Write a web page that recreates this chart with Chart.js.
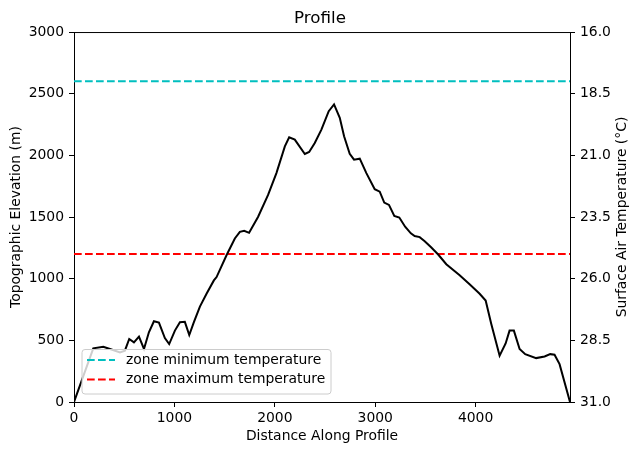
<!DOCTYPE html>
<html>
<head>
<meta charset="utf-8">
<script src="https://cdn.jsdelivr.net/npm/chart.js@4/dist/chart.umd.min.js"></script>
<style>
html,body{margin:0;padding:0;background:#fff;}
canvas{display:block;}
</style>
</head>
<body>
<canvas id="c" width="640" height="455"></canvas>
<script>
// ---- data ----
const distance = [0,192,292,358,458,507,550,597,647,697,746,796,846,905,948,1005,1055,1104,1148,1194,1254,1320,1393,1420,1519,1602,1652,1695,1744,1834,1933,2016,2100,2143,2199,2299,2342,2398,2464,2537,2590,2647,2690,2746,2789,2846,2912,2995,3045,3090,3137,3190,3240,3298,3355,3393,3443,3493,3559,3627,3708,3841,3940,4040,4100,4156,4239,4299,4338,4381,4438,4494,4603,4687,4743,4786,4836,4940];
const elevation = [0,435,448,430,402,416,511,484,530,430,565,655,644,519,470,579,647,650,543,647,774,878,986,1013,1190,1326,1380,1389,1372,1502,1679,1856,2073,2147,2128,2011,2027,2100,2209,2358,2413,2304,2155,2013,1965,1973,1856,1726,1706,1617,1598,1508,1496,1421,1368,1346,1337,1304,1253,1196,1117,1027,954,878,823,633,375,475,579,579,430,388,356,369,388,383,307,0];
const zoneMinElevation = 2600;
const zoneMaxElevation = 1200;
const xTicks = [0,1000,2000,3000,4000];
const elevTicks = [0,500,1000,1500,2000,2500,3000];
const tempTicks = [16.0,18.5,21.0,23.5,26.0,28.5,31.0];
const xMax = 4940;
const rightTitle = 'Surface Air Temperature (°C)';

const FONT = "'DejaVu Sans', sans-serif";
const DASH = [7.7,3.3];
const profilePts = distance.map((d,i)=>({x:d,y:elevation[i]}));

const legendPlugin = {
  id:'inLegend',
  afterDatasetsDraw(chart){
    const ctx = chart.ctx;
    const items = chart.data.datasets.filter(d=>d.showInLegend);
    const x0 = 82, y0 = 349.5, w = 249, h = 44.5, r = 3;
    ctx.save();
    ctx.beginPath();
    ctx.moveTo(x0+r,y0);
    ctx.lineTo(x0+w-r,y0); ctx.arcTo(x0+w,y0,x0+w,y0+r,r);
    ctx.lineTo(x0+w,y0+h-r); ctx.arcTo(x0+w,y0+h,x0+w-r,y0+h,r);
    ctx.lineTo(x0+r,y0+h); ctx.arcTo(x0,y0+h,x0,y0+h-r,r);
    ctx.lineTo(x0,y0+r); ctx.arcTo(x0,y0,x0+r,y0,r);
    ctx.closePath();
    ctx.fillStyle='rgba(255,255,255,0.8)';
    ctx.fill();
    ctx.strokeStyle='#cccccc';
    ctx.lineWidth=1;
    ctx.stroke();
    items.forEach((ds,i)=>{
      const y = 360 + i*19.5;
      ctx.beginPath();
      ctx.setLineDash(ds.borderDash);
      ctx.strokeStyle = ds.borderColor;
      ctx.lineWidth = ds.borderWidth;
      ctx.moveTo(87,y); ctx.lineTo(115,y);
      ctx.stroke();
      ctx.setLineDash([]);
      ctx.fillStyle='#000';
      ctx.font = "13.9px "+FONT;
      ctx.textBaseline='middle';
      ctx.textAlign='left';
      ctx.fillText(ds.label,126,y);
    });
    ctx.restore();
  }
};

const tickGrid = {display:true, drawOnChartArea:false, drawTicks:true, tickLength:5, color:'#000', tickWidth:1};

new Chart(document.getElementById('c'),{
  type:'line',
  data:{
    datasets:[
      {label:'profile', data:profilePts, borderColor:'#000', borderWidth:2, pointRadius:0, tension:0, yAxisID:'y', showInLegend:false},
      {label:'zone minimum temperature', data:[{x:0,y:zoneMinElevation},{x:xMax,y:zoneMinElevation}], borderColor:'#00bfbf', borderWidth:2, borderDash:DASH, pointRadius:0, yAxisID:'y', showInLegend:true},
      {label:'zone maximum temperature', data:[{x:0,y:zoneMaxElevation},{x:xMax,y:zoneMaxElevation}], borderColor:'#ff0000', borderWidth:2, borderDash:DASH, pointRadius:0, yAxisID:'y', showInLegend:true}
    ]
  },
  options:{
    responsive:false,
    animation:false,
    layout:{padding:0},
    plugins:{
      legend:{display:false},
      tooltip:{enabled:false},
      title:{display:true, text:'Profile', color:'#000', font:{family:FONT, size:16.7, weight:'normal'}, padding:{top:9,bottom:3}}
    },
    scales:{
      x:{
        type:'linear', min:0, max:xMax, position:'bottom',
        afterBuildTicks(s){ s.ticks = xTicks.map(v=>({value:v})); },
        afterFit(s){ s.height = 53; },
        grid:tickGrid,
        border:{display:true,color:'#000',width:1},
        ticks:{color:'#000', font:{family:FONT,size:13.9}, padding:3, maxRotation:0, callback:v=>String(v)},
        title:{display:true, text:'Distance Along Profile', color:'#000', font:{family:FONT,size:13.9}, padding:{top:0,bottom:10}}
      },
      y:{
        type:'linear', min:0, max:3000, position:'left',
        afterBuildTicks(s){ s.ticks = elevTicks.map(v=>({value:v})); },
        afterFit(s){ s.width = 74; },
        grid:tickGrid,
        border:{display:true,color:'#000',width:1},
        ticks:{color:'#000', font:{family:FONT,size:13.9}, padding:5, callback:v=>String(v)},
        title:{display:true, text:'Topographic Elevation (m)', color:'#000', font:{family:FONT,size:13.9}, padding:{top:8,bottom:0}}
      },
      y1:{
        type:'linear', min:16, max:31, reverse:true, position:'right',
        afterBuildTicks(s){ s.ticks = tempTicks.map(v=>({value:v})); },
        afterFit(s){ s.width = 70; },
        grid:tickGrid,
        border:{display:true,color:'#000',width:1},
        ticks:{color:'#000', font:{family:FONT,size:13.9}, padding:5, callback:v=>Number(v).toFixed(1)},
        title:{display:false}
      }
    }
  },
  plugins:[legendPlugin, {
    id:'extras',
    afterDraw(chart){
      const a = chart.chartArea, ctx = chart.ctx;
      ctx.save(); ctx.strokeStyle='#000'; ctx.lineWidth=1;
      ctx.beginPath(); ctx.moveTo(a.left,a.top+0.5); ctx.lineTo(a.right,a.top+0.5); ctx.stroke();
      ctx.translate(622,(a.top+a.bottom)/2);
      ctx.rotate(-Math.PI/2);
      ctx.fillStyle='#000';
      ctx.font="13.9px "+FONT;
      ctx.textAlign='center'; ctx.textBaseline='middle';
      ctx.fillText(rightTitle,0,0);
      ctx.restore();
    }
  }]
});
</script>
</body>
</html>
